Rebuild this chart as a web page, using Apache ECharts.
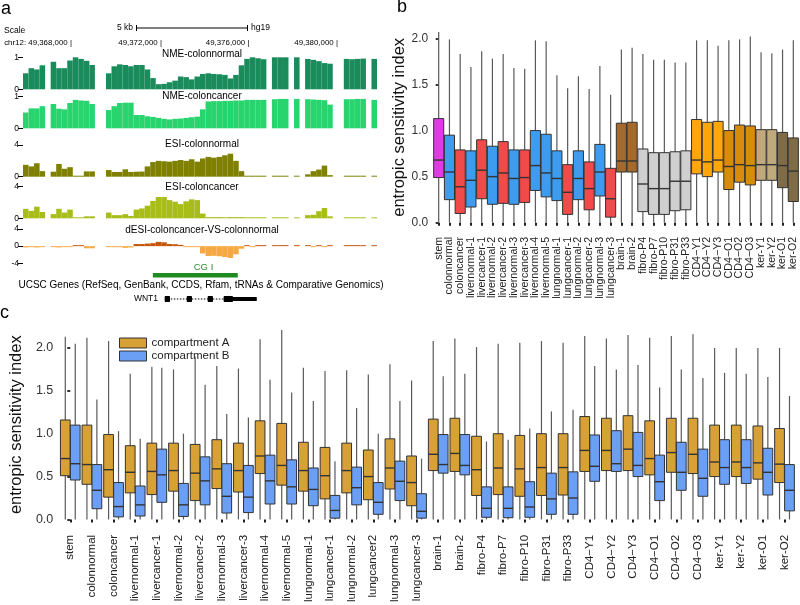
<!DOCTYPE html>
<html><head><meta charset="utf-8">
<script src="https://cdn.jsdelivr.net/npm/echarts@6/dist/echarts.min.js"></script>
<style>html,body{margin:0;padding:0;background:#fff}#chart{width:800px;height:605px}</style>
</head><body><div id="chart"></div>
<script>
// ---------------- Panel a data (250 bp bins, chr12 hg19) ----------------
const regionStart = 49365833;
const regionEnd = 49381833;
const nmeNormal = [0.5,0.66,0.62,0.75,null,0.86,0.66,0.66,0.9,1.0,0.95,0.89,0.76,null,null,0.5,0.72,0.78,0.76,0.72,0.76,0.76,0.62,0.35,0.16,0.17,0.22,0.27,0.4,0.38,0.31,0.4,0.48,0.5,0.48,0.47,0.45,0.34,0.45,0.75,0.95,1.0,0.97,0.94,null,1.0,1.0,1.0,null,1.0,null,0.95,0.92,0.88,0.82,0.8,null,null,0.95,0.94,0.95,0.96,null,0.95];
const nmeCancer = [0.5,0.63,0.63,0.7,null,0.77,0.62,0.6,0.8,0.9,0.88,0.87,0.77,null,null,0.58,0.7,0.8,0.81,0.81,0.42,0.42,0.38,0.36,0.33,0.3,0.28,0.3,0.31,0.33,0.35,0.37,0.6,0.85,0.86,0.86,0.87,0.87,0.88,0.88,0.9,0.9,0.9,0.9,null,0.92,0.93,0.93,null,0.93,null,0.92,0.91,0.9,0.89,0.75,null,null,0.92,0.92,0.93,0.93,null,0.9];
const esiNormal = [1.5,1.3,1.7,0.7,null,0.63,1.6,1.0,1.2,0.02,0.02,0.67,0.67,null,null,0.84,0.6,0.6,0.93,0.6,0.63,0.65,1.3,1.85,2.0,1.95,1.9,2.0,2.1,2.0,2.2,1.9,2.3,2.5,2.4,2.5,2.7,2.9,2.0,0.7,0.05,0.03,0.05,0.03,null,0.05,0.04,0.05,null,0.05,null,0.3,0.7,0.9,1.4,0.2,null,null,0.1,0.12,0.1,0.08,null,0.05];
const esiCancer = [1.2,0.94,1.47,0.8,null,0.53,1.2,0.73,1.1,0.12,0.1,0.25,0.25,null,null,0.73,0.4,0.4,0.53,0.3,1.1,1.25,1.6,2.2,2.7,2.7,2.3,2.1,1.8,2.15,2.4,2.3,0.6,0.15,0.15,0.15,0.12,0.15,0.15,0.15,0.12,0.12,0.12,0.12,null,0.12,0.12,0.12,null,0.12,null,0.4,0.45,0.9,1.3,0.25,null,null,0.12,0.12,0.12,0.12,null,0.1];
const dEsi = [-0.3,-0.2,-0.3,-0.2,null,-0.1,-0.3,-0.2,-0.1,0.1,0.1,-0.5,-0.5,null,null,-0.15,-0.25,-0.25,-0.4,-0.3,0.5,0.5,0.6,0.7,1.0,0.9,0.5,0.45,0.3,-0.2,-0.2,-0.2,-1.7,-2.3,-2.25,-2.35,-2.55,-2.75,-1.9,-0.6,0.05,-0.05,0.05,0.05,null,0.1,0.1,0.1,null,0.05,null,0.1,-0.2,0.05,-0.1,0.05,null,null,0.05,0.05,0.05,0.05,null,0.05];
const cgiStart = 49371702, cgiEnd = 49375540;
const geneName = 'WNT1';
const geneExonStarts = [49372244, 49373238, 49374186, 49374908];
const geneExonEnds = [49372470, 49373463, 49374411, 49376398];
const geneCds = [49372244, 49375315];
const trackNames = ['NME-colonnormal','NME-coloncancer','ESI-colonnormal','ESI-coloncancer','dESI-coloncancer-VS-colonnormal'];
const coordLabels = ['chr12: 49,368,000 |','49,372,000 |','49,376,000 |','49,380,000 |'];

// ---------------- Panel b data ----------------
const bCats = ['stem','colonnormal','coloncancer','livernormal-1','livercancer-1','livernormal-2','livercancer-2','livernormal-3','livercancer-3','livernormal-4','livernormal-5','lungnormal-1','lungcancer-1','lungnormal-2','lungcancer-2','lungnormal-3','lungcancer-3','brain-1','brain-2','fibro-P4','fibro-P7','fibro-P10','fibro-P31','fibro-P33','CD4\u2212Y1','CD4\u2212Y2','CD4\u2212Y3','CD4\u2212O1','CD4\u2212O2','CD4\u2212O3','ker-Y1','ker-Y2','ker-O1','ker-O2'];
const bGroup = ['stem','normal','cancer','normal','cancer','normal','cancer','normal','cancer','normal','normal','normal','cancer','normal','cancer','normal','cancer','brain','brain','fibro','fibro','fibro','fibro','fibro','cd4y','cd4y','cd4y','cd4o','cd4o','cd4o','kery','kery','kero','kero'];
const bMin = [0,0,0,0,0,0,0,0,0,0,0,0,0,0,0,0,0,0,0,0,0,0,0,0,0,0,0,0,0,0,0,0,0,0];
const bQ1 = [0.49,0.25,0.10,0.17,0.26,0.20,0.21,0.20,0.22,0.35,0.28,0.24,0.09,0.25,0.14,0.29,0.06,0.55,0.55,0.12,0.09,0.09,0.13,0.14,0.53,0.50,0.55,0.36,0.44,0.41,0.46,0.46,0.38,0.23];
const bMed = [0.68,0.55,0.39,0.46,0.57,0.50,0.54,0.48,0.49,0.62,0.54,0.48,0.33,0.48,0.37,0.55,0.26,0.67,0.67,0.42,0.37,0.37,0.45,0.45,0.68,0.66,0.68,0.61,0.63,0.62,0.63,0.63,0.62,0.56];
const bQ3 = [1.13,0.95,0.79,0.78,0.90,0.83,0.88,0.79,0.79,1.00,0.96,0.78,0.63,0.78,0.66,0.85,0.59,1.08,1.09,0.80,0.76,0.76,0.77,0.78,1.12,1.09,1.10,1.00,1.06,1.05,1.01,1.01,0.98,0.92];
const bMax = [2.07,1.99,1.83,1.69,1.86,1.78,1.83,1.68,1.67,1.98,1.97,1.60,1.46,1.59,1.45,1.70,1.39,1.88,1.90,1.83,1.77,1.77,1.74,1.74,1.98,1.98,1.92,1.98,1.99,2.02,1.85,1.84,1.88,1.98];

// ---------------- Panel c data ----------------
const cCats = ['stem','colonnormal','coloncancer','livernormal-1','livercancer-1','livernormal-2','livercancer-2','livernormal-3','livercancer-3','livernormal-4','livernormal-5','lungnormal-1','lungcancer-1','lungnormal-2','lungcancer2','lungnormal-3','lungcancer-3','brain-1','brain-2','fibro-P4','fibro-P7','fibro-P10','fibro-P31','fibro-P33','CD4\u2212Y1','CD4\u2212Y2','CD4\u2212Y3','CD4\u2212O1','CD4\u2212O2','CD4\u2212O3','ker-Y1','ker-Y2','ker-O1','ker-O2'];
const cSeriesNames = ['compartment A','compartment B'];
const cMinA = [0,0,0,0,0,0,0,0,0,0,0,0,0,0,0,0,0,0,0,0,0,0,0,0,0,0,0,0,0,0,0,0,0,0];
const cQ1A = [0.51,0.41,0.26,0.31,0.29,0.33,0.22,0.36,0.32,0.535,0.40,0.33,0.24,0.31,0.23,0.355,0.16,0.57,0.56,0.28,0.29,0.27,0.28,0.285,0.56,0.57,0.57,0.52,0.55,0.535,0.50,0.50,0.47,0.43];
const cMedA = [0.71,0.64,0.58,0.55,0.56,0.57,0.54,0.59,0.57,0.74,0.63,0.57,0.51,0.57,0.50,0.60,0.43,0.76,0.77,0.58,0.60,0.59,0.605,0.605,0.805,0.805,0.82,0.71,0.78,0.76,0.67,0.67,0.66,0.645];
const cQ3A = [1.16,1.10,0.99,0.86,0.89,0.89,0.875,0.93,0.89,1.15,1.12,0.90,0.84,0.89,0.81,0.94,0.74,1.17,1.18,0.97,1.00,0.98,1.00,1.00,1.20,1.18,1.21,1.15,1.18,1.18,1.10,1.10,1.09,1.06];
const cMaxA = [2.13,2.12,2.08,1.70,1.78,1.75,1.90,1.79,1.76,2.10,2.21,1.77,1.73,1.74,1.69,1.81,1.62,2.08,2.11,2.01,2.05,2.06,2.08,2.06,2.14,2.11,2.15,2.12,2.14,2.16,2.00,2.00,2.00,2.00];
const cMinB = [0,0,0,0,0,0,0,0,0,0,0,0,0,0,0,0,0,0,0,0,0,0,0,0,0,0,0,0,0,0,0,0,0,0];
const cQ1B = [0.46,0.125,0.03,0.04,0.20,0.035,0.17,0.075,0.08,0.18,0.18,0.16,0.015,0.17,0.06,0.22,0.015,0.54,0.52,0.025,0.02,0.025,0.06,0.06,0.445,0.56,0.50,0.22,0.34,0.27,0.41,0.42,0.285,0.10];
const cMedB = [0.65,0.34,0.15,0.17,0.52,0.17,0.45,0.27,0.26,0.45,0.38,0.35,0.105,0.37,0.20,0.445,0.095,0.64,0.63,0.13,0.13,0.145,0.24,0.25,0.62,0.65,0.63,0.44,0.55,0.48,0.605,0.605,0.55,0.34];
const cQ3B = [1.10,0.64,0.43,0.39,0.82,0.42,0.73,0.65,0.63,0.75,0.695,0.60,0.28,0.61,0.43,0.68,0.30,0.99,0.99,0.38,0.38,0.44,0.54,0.555,0.985,1.035,1.015,0.75,0.90,0.82,0.93,0.93,0.83,0.64];
const cMaxB = [2.05,1.40,1.03,0.94,1.77,1.00,1.57,1.23,1.19,1.63,1.48,1.38,0.68,1.30,1.00,1.38,0.71,1.67,1.70,0.91,0.93,1.06,1.26,1.28,1.79,1.75,1.80,1.54,1.75,1.65,1.71,1.70,1.66,1.44];
const yTicks = [0, 0.5, 1.0, 1.5, 2.0];

// ---------------- styles ----------------
const FONT = '"Liberation Sans", Arial, sans-serif';
const trackColors = ['#1a8c5c', '#27d46e', '#7f8000', '#a8bd18'];
const dEsiPos = '#c5570c', dEsiNeg = '#f6a943';
const groupColors = {stem:'#e03ae6', normal:'#3d9cf0', cancer:'#f04a4a', brain:'#a36a2c', fibro:'#cfcfcf', cd4y:'#ffa60a', cd4o:'#d98c0c', kery:'#bfaa7c', kero:'#7f6c47'};
const colA = '#d7a136', colB = '#6b9ff5';

const trackGrids = [
  {top: 57.3, height: 32},
  {top: 96.7, height: 31.6},
  {top: 145, height: 31.7},
  {top: 186.7, height: 31.6},
  {top: 229, height: 34.3}
];
const trackMax = [1, 1, 4, 4, 4];
const trackMin = [0, 0, 0, 0, -4];
const trackInt = [1, 1, 4, 4, 4];
const trackData = [nmeNormal, nmeCancer, esiNormal, esiCancer, dEsi];
const binIdx = nmeNormal.map((_, i) => i);

const grids = [];
const xAxes = [];
const yAxes = [];
const series = [];
trackGrids.forEach((g, i) => {
  grids.push({left: 23, right: 423, top: g.top, height: g.height});
  xAxes.push({type: 'category', gridIndex: i, data: binIdx, show: false, boundaryGap: true});
  yAxes.push({type: 'value', gridIndex: i, min: trackMin[i], max: trackMax[i], interval: trackInt[i],
    splitLine: {show: false}, axisLine: {show: false},
    axisTick: {show: true, length: 5, lineStyle: {color: '#000', width: 1}},
    axisLabel: {fontSize: 8.5, fontFamily: FONT, color: '#000', margin: 4}});
  series.push({type: 'bar', xAxisIndex: i, yAxisIndex: i, data: trackData[i], barWidth: '100%',
    barMinHeight: i >= 2 ? 1 : 0,
    itemStyle: {color: i < 4 ? trackColors[i] : (p => (p.value >= 0 ? dEsiPos : dEsiNeg))},
    silent: true});
});
// CGI grid (5)
grids.push({left: 23, right: 423, top: 273, height: 4.5});
xAxes.push({type: 'value', gridIndex: 5, min: regionStart, max: regionEnd, show: false});
yAxes.push({type: 'value', gridIndex: 5, min: 0, max: 1, show: false});
series.push({type: 'custom', xAxisIndex: 5, yAxisIndex: 5, data: [[cgiStart, cgiEnd]], silent: true,
  renderItem: (params, api) => {
    const x1 = api.coord([api.value(0), 0])[0], x2 = api.coord([api.value(1), 0])[0];
    const cs = params.coordSys;
    return {type: 'rect', shape: {x: x1, y: cs.y, width: x2 - x1, height: cs.height}, style: {fill: '#1f8a1f'}};
  }});
// Gene grid (6)
grids.push({left: 23, right: 423, top: 295, height: 8});
xAxes.push({type: 'value', gridIndex: 6, min: regionStart, max: regionEnd, show: false});
yAxes.push({type: 'value', gridIndex: 6, min: 0, max: 1, show: false});
series.push({type: 'custom', xAxisIndex: 6, yAxisIndex: 6, data: [[geneExonStarts[0], geneExonEnds[geneExonEnds.length - 1]]], silent: true,
  renderItem: (params, api) => {
    const cs = params.coordSys;
    const cy = cs.y + cs.height / 2;
    const X = v => api.coord([v, 0])[0];
    const kids = [{type: 'line', shape: {x1: X(api.value(0)), y1: cy, x2: X(api.value(1)), y2: cy}, style: {stroke: '#000', lineWidth: 1, lineDash: [1.5, 1.5]}}];
    geneExonStarts.forEach((s, k) => {
      const e = geneExonEnds[k];
      const cs0 = Math.max(s, geneCds[0]), ce0 = Math.min(e, geneCds[1]);
      kids.push({type: 'rect', shape: {x: X(s), y: cy - 2, width: X(e) - X(s), height: 4}, style: {fill: '#000'}});
      if (ce0 > cs0) kids.push({type: 'rect', shape: {x: X(cs0), y: cy - 3, width: X(ce0) - X(cs0), height: 6}, style: {fill: '#000'}});
    });
    return {type: 'group', children: kids};
  }});

// ---------------- box renderer ----------------
function makeBoxRender(offset, widthFrac, colorOf) {
  return function (params, api) {
    const i = api.value(0);
    const unit = api.size([1, 0])[0];
    const cx = api.coord([i, 0])[0] + offset * unit;
    const w = widthFrac * unit;
    const yMin = api.coord([i, api.value(1)])[1];
    const yQ1 = api.coord([i, api.value(2)])[1];
    const yMed = api.coord([i, api.value(3)])[1];
    const yQ3 = api.coord([i, api.value(4)])[1];
    const yMax = api.coord([i, api.value(5)])[1];
    return {type: 'group', children: [
      {type: 'line', shape: {x1: cx, y1: yMax, x2: cx, y2: yMin}, style: {stroke: '#5a5a5a', lineWidth: 1.2}},
      {type: 'rect', shape: {x: cx - w / 2, y: yQ3, width: w, height: yQ1 - yQ3}, style: {fill: colorOf(params.dataIndex), stroke: '#333', lineWidth: 1}},
      {type: 'line', shape: {x1: cx - w / 2, y1: yMed, x2: cx + w / 2, y2: yMed}, style: {stroke: '#333', lineWidth: 1.4}}
    ]};
  };
}
const idxB = bCats.map((_, i) => i);
const idxC = cCats.map((_, i) => i);

// value axis standing in for a discrete axis (ggplot-style 0.6 padding);
// two blank guard positions at the ends keep ECharts from hiding end labels.
function xCatAxis(gi, cats, idx, fs, margin) {
  const n = cats.length;
  const vals = [-0.55].concat(idx, [n - 0.45]);
  return {type: 'value', gridIndex: gi, min: -0.6, max: n - 0.4,
    splitLine: {show: false}, axisLine: {show: false},
    axisTick: {show: true, customValues: vals, length: 3, lineStyle: {color: '#222', width: 2}},
    axisLabel: {show: true, customValues: vals, rotate: 90, fontSize: fs, fontFamily: FONT, color: '#222', margin: margin,
      showMinLabel: false, showMaxLabel: false, hideOverlap: false,
      formatter: v => (Math.abs(v - Math.round(v)) < 1e-6 && cats[Math.round(v)] !== undefined) ? cats[Math.round(v)] : ' '}};
}
function yValAxis(gi, mn, mx, fs) {
  return {type: 'value', gridIndex: gi, min: mn, max: mx,
    name: 'entropic sensitivity index', nameLocation: 'middle', nameGap: 24,
    nameTextStyle: {fontSize: 16.5, fontFamily: FONT, color: '#111'},
    splitLine: {show: false}, axisLine: {show: false},
    axisTick: {show: true, customValues: yTicks, length: 3, lineStyle: {color: '#333', width: 2}},
    axisLabel: {show: true, customValues: yTicks, fontSize: fs, fontFamily: FONT, color: '#333', margin: 4, formatter: v => v.toFixed(1)}};
}

// Panel b grid (7)
grids.push({left: 432.25, right: 0.25, top: 22.8, height: 209.1});
xAxes.push(xCatAxis(7, bCats, idxB, 10.6, 5));
yAxes.push(yValAxis(7, -0.1, 2.17, 12));
series.push({type: 'custom', name: 'b', xAxisIndex: 7, yAxisIndex: 7, silent: true,
  encode: {x: 0, y: [1, 2, 3, 4, 5]},
  data: idxB.map(i => [i, bMin[i], bQ1[i], bMed[i], bQ3[i], bMax[i]]),
  renderItem: makeBoxRender(0, 0.94, k => groupColors[bGroup[k]])});

// Panel c grid (8)
grids.push({left: 44.1, right: 2.5, top: 320.5, height: 209});
xAxes.push(xCatAxis(8, cCats, idxC, 11.5, 6));
yAxes.push(yValAxis(8, -0.11, 2.32, 12.5));
series.push({type: 'custom', name: cSeriesNames[0], xAxisIndex: 8, yAxisIndex: 8, silent: true,
  itemStyle: {color: colA, borderColor: '#333', borderWidth: 1},
  encode: {x: 0, y: [1, 2, 3, 4, 5]},
  data: idxC.map(i => [i, cMinA[i], cQ1A[i], cMedA[i], cQ3A[i], cMaxA[i]]),
  renderItem: makeBoxRender(-0.23, 0.45, () => colA)});
series.push({type: 'custom', name: cSeriesNames[1], xAxisIndex: 8, yAxisIndex: 8, silent: true,
  itemStyle: {color: colB, borderColor: '#333', borderWidth: 1},
  encode: {x: 0, y: [1, 2, 3, 4, 5]},
  data: idxC.map(i => [i, cMinB[i], cQ1B[i], cMedB[i], cQ3B[i], cMaxB[i]]),
  renderItem: makeBoxRender(0.23, 0.45, () => colB)});

// ---------------- graphic texts ----------------
function txt(text, x, y, size, opts) {
  return {type: 'text', x: x, y: y, silent: true,
    style: Object.assign({text: text, font: size + 'px ' + FONT, fill: '#000', align: 'left', verticalAlign: 'middle'}, opts || {})};
}
const trackTitleY = [54, 96, 144.5, 187, 230];
const coordX = [72, 162, 249.5, 338];
const graphics = [
  txt('a', 1, 9, 18),
  txt('b', 397, 7, 18),
  txt('c', 0, 313, 18),
  txt('Scale', 4, 31, 8.5),
  txt('5 kb', 133, 28, 8.5, {align: 'right'}),
  {type: 'line', silent: true, shape: {x1: 136, y1: 28, x2: 248, y2: 28}, style: {stroke: '#000', lineWidth: 1}},
  {type: 'line', silent: true, shape: {x1: 136.5, y1: 25, x2: 136.5, y2: 31}, style: {stroke: '#000', lineWidth: 1}},
  {type: 'line', silent: true, shape: {x1: 247.5, y1: 25, x2: 247.5, y2: 31}, style: {stroke: '#000', lineWidth: 1}},
  txt('hg19', 251, 28, 8.5),
  txt('CG I', 203.5, 267.5, 9.5, {align: 'center', fill: '#2e8b2e'}),
  txt('UCSC Genes (RefSeq, GenBank, CCDS, Rfam, tRNAs & Comparative Genomics)', 201, 285, 10, {align: 'center'}),
  txt(geneName, 158, 299, 8.5, {align: 'right'})
];
coordLabels.forEach((t, i) => graphics.push(txt(t, coordX[i], 43, 7.9, {align: 'right'})));
trackNames.forEach((t, i) => graphics.push(txt(t, 202, trackTitleY[i], 10, {align: 'center'})));

const option = {
  animation: false,
  backgroundColor: '#fff',
  grid: grids,
  xAxis: xAxes,
  yAxis: yAxes,
  legend: {data: cSeriesNames, orient: 'vertical', left: 114, top: 332, itemWidth: 27, itemHeight: 10, itemGap: 1,
    icon: 'rect', selectedMode: false,
    itemStyle: {borderColor: '#333', borderWidth: 1},
    textStyle: {fontSize: 11.5, fontFamily: FONT, color: '#222'}},
  series: series,
  graphic: graphics
};
const chart = echarts.init(document.getElementById('chart'), null, {renderer: 'canvas'});
chart.setOption(option);
</script></body></html>
